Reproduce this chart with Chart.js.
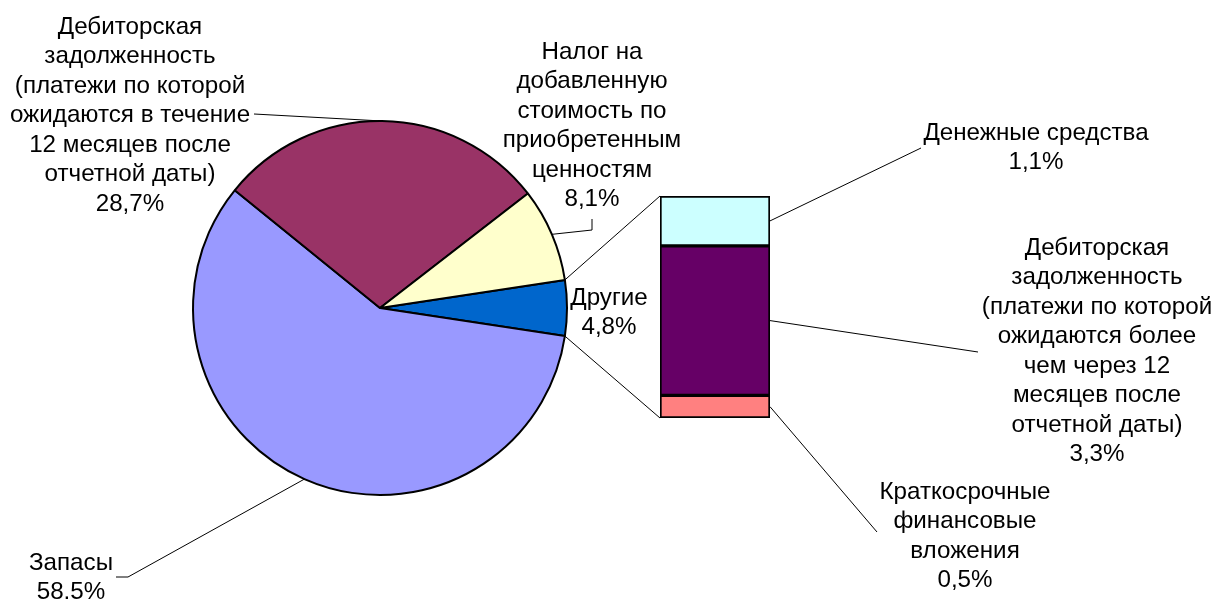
<!DOCTYPE html>
<html><head><meta charset="utf-8">
<script src="https://cdn.jsdelivr.net/npm/chart.js@4"></script>
<style>
html,body{margin:0;padding:0;background:#fff;}
#wrap{position:relative;width:1216px;height:601px;overflow:hidden;background:#fff}
canvas{position:absolute;left:0;top:0}
</style></head><body>
<div id="wrap"><canvas id="pie" width="1216" height="601"></canvas><canvas id="bar" width="1216" height="601"></canvas></div>
<script>
// ---- data ----
const pieCategories = ['Другие', 'Запасы', 'Дебиторская\nзадолженность\n(платежи по которой\nожидаются в течение\n12 месяцев после\nотчетной даты)', 'Налог на\nдобавленную\nстоимость по\nприобретенным\nценностям'];
const pieValues = [4.8, 58.5, 28.7, 8.1];
const pieValueLabels = ['4,8%', '58.5%', '28,7%', '8,1%'];
const pieColors = ['#0066CC', '#9999FF', '#993366', '#FFFFCC'];

const barCategories = ['Краткосрочные\nфинансовые\nвложения', 'Дебиторская\nзадолженность\n(платежи по которой\nожидаются более\nчем через 12\nмесяцев после\nотчетной даты)', 'Денежные средства'];
const barValues = [0.5, 3.3, 1.1];
const barValueLabels = ['0,5%', '3,3%', '1,1%'];
const barColors = ['#FF8080', '#660066', '#CCFFFF'];

// ---- label layout (text centre, first-line centre, leader end points) ----
const FONT = '24.2px "Liberation Sans", Arial, sans-serif';
const LINE_H = 29.5;
const pieLabelLayout = [
  {cx: 609, cy: 298, leader: null},
  {cx: 71, cy: 563, leader: [{x: 116, y: 577}, {x: 128, y: 577}]},
  {cx: 130, cy: 27, leader: [{x: 254, y: 114}]},
  {cx: 592, cy: 52, leader: [{x: 592, y: 219}, {x: 592, y: 230}]}
];
const barLabelLayout = [
  {cx: 965, cy: 492, leader: {x: 877, y: 532}},
  {cx: 1097, cy: 248, leader: {x: 978, y: 352}},
  {cx: 1036, cy: 133, leader: {x: 921, y: 148}}
];

function drawLines(ctx, text, cx, cy) {
  const lines = text.split('\n');
  ctx.save();
  ctx.font = FONT;
  ctx.fillStyle = '#000';
  ctx.textAlign = 'center';
  ctx.textBaseline = 'middle';
  lines.forEach((l, i) => ctx.fillText(l, cx, cy + i * LINE_H));
  ctx.restore();
}
function polyline(ctx, pts) {
  ctx.save();
  ctx.strokeStyle = '#000';
  ctx.lineWidth = 1;
  ctx.beginPath();
  pts.forEach((p, i) => i ? ctx.lineTo(p.x, p.y) : ctx.moveTo(p.x, p.y));
  ctx.stroke();
  ctx.restore();
}

const pieTotal = pieValues.reduce((a, b) => a + b, 0);
const firstSweep = pieValues[0] / pieTotal * 360;

const pieLabelPlugin = {
  id: 'pieLabels',
  afterDraw(chart) {
    const ctx = chart.ctx;
    const arcs = chart.getDatasetMeta(0).data;
    arcs.forEach((arc, i) => {
      const p = arc.getProps(['x', 'y', 'startAngle', 'endAngle', 'outerRadius'], true);
      const mid = (p.startAngle + p.endAngle) / 2;
      const edge = {x: p.x + p.outerRadius * Math.cos(mid), y: p.y + p.outerRadius * Math.sin(mid)};
      const lay = pieLabelLayout[i];
      if (lay.leader) polyline(ctx, lay.leader.concat([edge]));
      drawLines(ctx, pieCategories[i] + '\n' + pieValueLabels[i], lay.cx, lay.cy);
    });
  }
};

const pieChart = new Chart(document.getElementById('pie'), {
  type: 'pie',
  data: {
    labels: pieCategories,
    datasets: [{
      data: pieValues,
      backgroundColor: pieColors,
      borderColor: '#000',
      borderWidth: 2
    }]
  },
  options: {
    responsive: false,
    animation: false,
    events: [],
    devicePixelRatio: 1,
    rotation: 90 - firstSweep / 2,
    radius: 187,
    layout: {padding: {left: 193, right: 649, top: 121, bottom: 106}},
    plugins: {legend: {display: false}, tooltip: {enabled: false}}
  },
  plugins: [pieLabelPlugin]
});

const barTotal = barValues.reduce((a, b) => a + b, 0);

const barLabelPlugin = {
  id: 'barLabels',
  afterDraw(chart) {
    const ctx = chart.ctx;
    // connectors from the "Другие" slice to the stacked bar
    const arc = pieChart.getDatasetMeta(0).data[0].getProps(['x', 'y', 'startAngle', 'endAngle', 'outerRadius'], true);
    const topBar = chart.getDatasetMeta(barValues.length - 1).data[0].getProps(['x', 'y', 'base', 'width'], true);
    const botBar = chart.getDatasetMeta(0).data[0].getProps(['x', 'y', 'base', 'width'], true);
    polyline(ctx, [
      {x: arc.x + arc.outerRadius * Math.cos(arc.startAngle), y: arc.y + arc.outerRadius * Math.sin(arc.startAngle)},
      {x: topBar.x - topBar.width / 2, y: Math.min(topBar.y, topBar.base)}
    ]);
    polyline(ctx, [
      {x: arc.x + arc.outerRadius * Math.cos(arc.endAngle), y: arc.y + arc.outerRadius * Math.sin(arc.endAngle)},
      {x: botBar.x - botBar.width / 2, y: Math.max(botBar.y, botBar.base)}
    ]);
    barValues.forEach((v, i) => {
      const b = chart.getDatasetMeta(i).data[0].getProps(['x', 'y', 'base', 'width'], true);
      const lay = barLabelLayout[i];
      polyline(ctx, [{x: b.x + b.width / 2, y: (b.y + b.base) / 2}, lay.leader]);
      drawLines(ctx, barCategories[i] + '\n' + barValueLabels[i], lay.cx, lay.cy);
    });
  }
};

new Chart(document.getElementById('bar'), {
  type: 'bar',
  data: {
    labels: [''],
    datasets: barValues.map((v, i) => ({
      label: barCategories[i],
      data: [v],
      backgroundColor: barColors[i],
      borderColor: '#000',
      borderWidth: 2,
      borderSkipped: false,
      barPercentage: 1,
      categoryPercentage: 1
    }))
  },
  options: {
    responsive: false,
    animation: false,
    events: [],
    devicePixelRatio: 1,
    layout: {padding: {left: 660, right: 446, top: 196, bottom: 183}},
    scales: {
      x: {display: false, stacked: true},
      y: {display: false, stacked: true, min: 0, max: barTotal}
    },
    plugins: {legend: {display: false}, tooltip: {enabled: false}}
  },
  plugins: [barLabelPlugin]
});
</script>
</body></html>
